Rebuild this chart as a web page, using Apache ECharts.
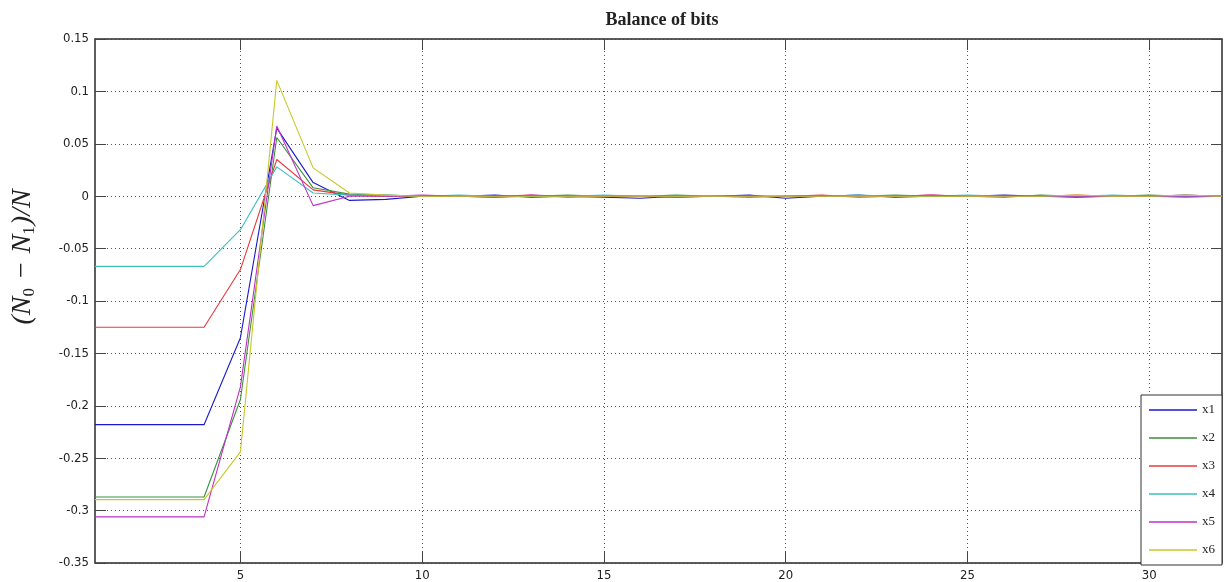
<!DOCTYPE html>
<html>
<head>
<meta charset="utf-8">
<script src="https://cdn.jsdelivr.net/npm/echarts@6/dist/echarts.min.js"></script>
<style>html,body{margin:0;padding:0;background:#fff}#c{width:1225px;height:582px}</style>
</head>
<body>
<div id="c"></div>
<script>
const steps = [1,2,3,4,5,6,7,8,9,10,11,12,13,14,15,16,17,18,19,20,21,22,23,24,25,26,27,28,29,30,31,32];
const xTicks = [5,10,15,20,25,30];
const seriesNames = ['x1','x2','x3','x4','x5','x6'];
const x1 = [-0.218,-0.218,-0.218,-0.218,-0.135,0.065,0.013,-0.004,-0.003,0.000,0.000,0.001,-0.001,0.000,-0.001,-0.002,0.000,0.000,0.001,-0.002,0.000,0.001,-0.001,0.000,0.000,0.001,0.000,-0.001,0.000,0.000,0.001,0.000];
const x2 = [-0.287,-0.287,-0.287,-0.287,-0.194,0.056,0.008,0.002,0.001,0.000,0.000,-0.001,0.000,0.001,0.000,0.000,0.001,0.000,-0.001,0.000,0.000,0.000,0.001,0.000,0.000,-0.001,0.001,0.000,0.000,0.001,0.000,0.000];
const x3 = [-0.125,-0.125,-0.125,-0.125,-0.070,0.035,0.006,0.001,0.000,0.000,0.000,0.000,0.001,-0.001,0.000,0.000,-0.001,0.000,0.000,0.000,0.001,-0.001,0.000,0.001,0.000,0.000,0.000,0.001,0.000,0.000,-0.001,0.000];
const x4 = [-0.067,-0.067,-0.067,-0.067,-0.032,0.028,0.003,0.001,0.001,0.000,0.001,0.000,0.000,0.000,0.001,0.000,0.000,0.000,0.000,0.000,0.000,0.001,0.000,0.000,0.001,0.000,0.000,0.000,0.001,0.000,0.000,0.000];
const x5 = [-0.306,-0.306,-0.306,-0.306,-0.182,0.067,-0.009,0.000,0.000,0.001,0.000,-0.001,0.001,0.000,0.000,0.000,-0.001,0.000,0.000,0.000,0.000,0.000,0.000,0.001,0.000,0.000,0.000,0.000,0.000,0.000,0.000,0.000];
const x6 = [-0.2895,-0.2895,-0.2895,-0.2895,-0.244,0.1105,0.027,0.003,0.001,0.000,0.000,0.000,0.000,0.000,0.000,0.000,0.000,0.000,0.000,0.000,0.000,0.000,0.000,0.000,0.000,0.000,0.000,0.001,0.000,0.000,0.001,0.000];
const allData = [x1,x2,x3,x4,x5,x6];
const colors = ['#1a1acc','#3d8f3d','#e8383d','#3cc0c0','#c030c8','#c8c828'];

const chart = echarts.init(document.getElementById('c'), null, {renderer:'canvas'});
const tickFont = {fontFamily:"'Liberation Sans Narrow','DejaVu Sans Condensed','Liberation Sans',sans-serif", fontSize:13, color:'#222'};
const gridLine = {show:true, lineStyle:{color:'#555', type:[1,3], width:1}};
const axLine = {show:true, onZero:false, lineStyle:{color:'#444', width:1.5}};
const serif = "'Liberation Serif','DejaVu Serif',serif";

chart.setOption({
  animation:false,
  backgroundColor:'#fff',
  title:{
    text:'Balance of bits', left:657, top:6, textAlign:'center',
    textStyle:{fontFamily:serif, fontSize:18, fontWeight:'bold', color:'#222'}
  },
  grid:{left:95, right:3, top:39, bottom:16, show:true, borderColor:'#555', borderWidth:1},
  legend:{
    data:seriesNames, orient:'vertical', right:3, bottom:17,
    icon:'rect', itemWidth:48, itemHeight:1.5, itemGap:14, padding:[8,7,8,8],
    backgroundColor:'#fff', borderColor:'#333', borderWidth:1, borderRadius:0,
    textStyle:{fontFamily:serif, fontSize:13, lineHeight:14, color:'#222'}
  },
  xAxis:[{
    type:'value', min:1, max:32, position:'bottom',
    axisLine:axLine,
    axisTick:{show:true, inside:true, length:11, customValues:xTicks, lineStyle:{color:'#444'}},
    axisLabel:Object.assign({customValues:xTicks, margin:6}, tickFont),
    splitLine:gridLine
  },{
    type:'value', min:1, max:32, position:'top',
    axisLine:axLine,
    axisTick:{show:true, inside:true, length:11, customValues:xTicks, lineStyle:{color:'#444'}},
    axisLabel:{show:false}, splitLine:{show:false}
  }],
  yAxis:[{
    type:'value', min:-0.35, max:0.15, interval:0.05,
    axisLine:axLine,
    axisTick:{show:true, inside:true, length:11, lineStyle:{color:'#444'}},
    axisLabel:Object.assign({margin:6, formatter:v=>String(parseFloat(v.toFixed(2)))}, tickFont),
    splitLine:gridLine,
    name:'{p|(}{i|N}{s|0}{m|−}{i|N}{s|1}{p|)/}{i|N}',
    nameLocation:'middle', nameRotate:90, nameGap:57,
    nameTextStyle:{
      padding:[0,0,0,88],
      rich:{
        p:{fontFamily:serif, fontStyle:'italic', fontSize:28, color:'#222'},
        i:{fontFamily:serif, fontStyle:'italic', fontSize:28, color:'#222'},
        m:{fontFamily:serif, fontSize:28, color:'#222', padding:[0,9,0,9]},
        s:{fontFamily:serif, fontSize:17, color:'#222', padding:[13,1,0,0]}
      }
    }
  },{
    type:'value', min:-0.35, max:0.15, interval:0.05, position:'right',
    axisLine:axLine,
    axisTick:{show:true, inside:true, length:11, lineStyle:{color:'#444'}},
    axisLabel:{show:false}, splitLine:{show:false}
  }],
  series: seriesNames.map((n,k)=>({
    name:n, type:'line', symbol:'none', xAxisIndex:0, yAxisIndex:0,
    data: steps.map((s,i)=>[s, allData[k][i]]),
    lineStyle:{width:1.1, color:colors[k]}, itemStyle:{color:colors[k]}
  }))
});
</script>
</body>
</html>
